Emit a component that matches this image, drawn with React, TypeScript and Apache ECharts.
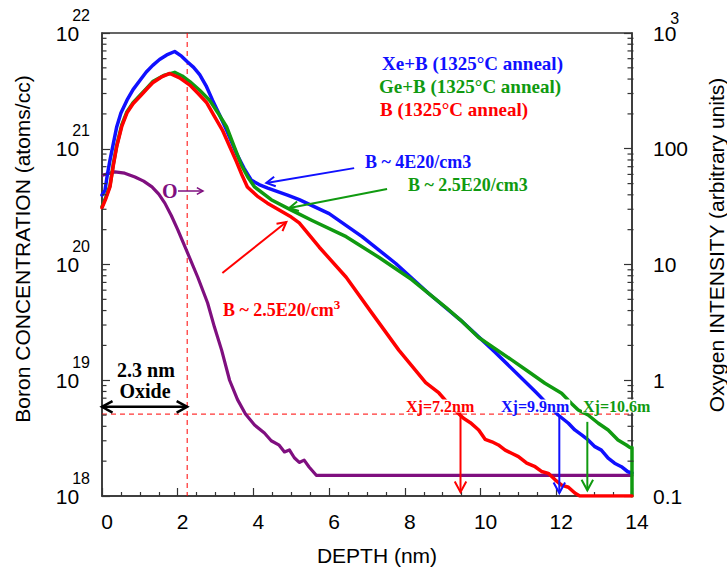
import React, { useEffect, useRef } from "react";
import * as echarts from "echarts";

const SANS = "'Liberation Sans', Arial, sans-serif";
const SERIF = "'Liberation Serif', 'Times New Roman', serif";

const BLUE = "#1010ff";
const GREEN = "#109a10";
const RED = "#ff0000";
const PURPLE = "#7f0f7f";
const AXIS = "#333333";

// ---- Data ----
const xeDepth = [0, 0.08, 0.14, 0.21, 0.29, 0.39, 0.5, 0.66, 0.82, 1.0, 1.17, 1.34, 1.52, 1.71, 1.92, 2.1, 2.26, 2.42, 2.58, 2.75, 2.92, 3.1, 3.29, 3.55, 3.75, 3.94, 4.15, 4.38, 4.9, 5.21, 6.0, 6.87, 7.76, 8.63, 9.47, 10.39, 11.45, 11.75, 12.05, 12.32, 12.49, 12.67, 12.84, 13.02, 13.19, 13.37, 13.54, 13.72, 13.89, 14];
const xeConc = [3.98e20, 4.37e20, 5.93e20, 7.94e20, 1.07e21, 1.55e21, 2.04e21, 2.63e21, 3.24e21, 3.89e21, 4.6e21, 5.25e21, 5.9e21, 6.46e21, 6.92e21, 6.31e21, 5.62e21, 5.05e21, 4.37e21, 3.5e21, 2.63e21, 1.98e21, 1.45e21, 9.12e20, 6.8e20, 5.37e20, 4.9e20, 4.57e20, 3.98e20, 3.63e20, 2.75e20, 1.74e20, 1.02e20, 5.62e19, 3.31e19, 1.74e19, 7.94e18, 6.31e18, 5.01e18, 4.25e18, 3.72e18, 3.37e18, 3.05e18, 2.67e18, 2.49e18, 2.12e18, 1.92e18, 1.79e18, 1.62e18, 1.58e18];

const geDepth = [0, 0.1, 0.21, 0.3, 0.39, 0.52, 0.66, 0.82, 1.0, 1.17, 1.34, 1.63, 1.92, 2.12, 2.32, 2.58, 2.84, 3.06, 3.29, 3.48, 3.68, 3.85, 4.03, 4.47, 5.0, 5.55, 6.45, 7.32, 8.18, 9.08, 9.47, 9.95, 10.82, 11.26, 11.7, 12.14, 12.4, 12.58, 12.84, 13.11, 13.37, 13.63, 13.85, 13.94, 14, 14];
const geConc = [3.16e20, 3.8e20, 4.79e20, 7.4e20, 1.07e21, 1.6e21, 2.09e21, 2.5e21, 2.88e21, 3.3e21, 3.8e21, 4.3e21, 4.57e21, 4.25e21, 3.8e21, 3.2e21, 2.63e21, 2.05e21, 1.55e21, 1.07e21, 7.24e20, 5.7e20, 4.68e20, 3.63e20, 2.95e20, 2.4e20, 1.74e20, 1.15e20, 7.41e19, 4.27e19, 3.31e19, 2.34e19, 1.5e19, 1.19e19, 9.42e18, 7.71e18, 6.31e18, 5.53e18, 5.01e18, 4.25e18, 3.72e18, 3.05e18, 2.76e18, 2.63e18, 2.63e18, 1.0e18];

const bDepth = [0, 0.1, 0.21, 0.3, 0.39, 0.52, 0.66, 0.82, 1.0, 1.17, 1.34, 1.56, 1.79, 2.05, 2.32, 2.54, 2.76, 2.97, 3.18, 3.37, 3.55, 3.7, 3.84, 4.1, 4.37, 4.68, 5.0, 5.21, 5.74, 6.45, 7.13, 7.84, 8.55, 8.9, 9.2, 9.55, 9.73, 9.95, 10.12, 10.3, 10.47, 10.65, 10.82, 11.0, 11.22, 11.44, 11.61, 11.79, 11.97, 12.14, 12.32, 12.49, 12.62, 14];
const bConc = [3.09e20, 3.7e20, 4.68e20, 7.2e20, 1.05e21, 1.55e21, 2.04e21, 2.45e21, 2.82e21, 3.25e21, 3.72e21, 4.15e21, 4.47e21, 4.1e21, 3.55e21, 3.0e21, 2.51e21, 1.9e21, 1.45e21, 1.05e21, 7.76e20, 5.9e20, 4.68e20, 3.9e20, 3.39e20, 2.95e20, 2.57e20, 2.29e20, 1.41e20, 7.76e19, 3.8e19, 1.82e19, 9.55e18, 7.76e18, 6.0e18, 4.69e18, 4.3e18, 3.72e18, 3.09e18, 2.94e18, 2.76e18, 2.49e18, 2.34e18, 2.19e18, 1.92e18, 1.79e18, 1.63e18, 1.57e18, 1.38e18, 1.24e18, 1.19e18, 1.06e18, 1.0e18, 1.0e18];

const oDepth = [0.03, 0.34, 0.6, 0.87, 1.1, 1.32, 1.5, 1.66, 1.83, 2.0, 2.26, 2.53, 2.79, 2.97, 3.16, 3.37, 3.58, 3.79, 4.03, 4.29, 4.47, 4.68, 4.82, 4.95, 5.08, 5.21, 5.34, 5.47, 5.66, 14];
const oIntensity = [59.3, 63.1, 61.5, 57.0, 52.5, 46.8, 40.5, 33.9, 26.5, 20.0, 12.6, 7.76, 4.65, 2.88, 1.82, 1.0, 0.68, 0.51, 0.41, 0.35, 0.3, 0.275, 0.24, 0.25, 0.214, 0.195, 0.204, 0.178, 0.151, 0.151];

const legendLabels = ["Xe+B (1325°C anneal)", "Ge+B (1325°C anneal)", "B (1325°C anneal)"];
const oxideDepth = 2.25;
const xjLevel = 5.1e18;
const xjLabels = ["Xj=7.2nm", "Xj=9.9nm", "Xj=10.6m"];
const xjArrowDepth = [9.47, 12.08, 12.82];
const xjArrowTop = [5.75e18, 5.0e18, 4.37e18];
const xjArrowBottom = [1.08e18, 1.06e18, 1.12e18];

const zip = (a: number[], b: number[]) => a.map((v, i) => [v, b[i]]);

function arrowEls(p1: number[], p2: number[], color: string, head = 10, width = 2, both = false) {
  const ang = Math.atan2(p2[1] - p1[1], p2[0] - p1[0]);
  const a = 0.5;
  const mk = (tip: number[], d: number) => ({
    type: "polyline",
    z: 100,
    shape: {
      points: [
        [tip[0] - head * Math.cos(d - a), tip[1] - head * Math.sin(d - a)],
        [tip[0], tip[1]],
        [tip[0] - head * Math.cos(d + a), tip[1] - head * Math.sin(d + a)],
      ],
    },
    style: { stroke: color, lineWidth: width, fill: null },
  });
  const els: any[] = [
    { type: "line", z: 100, shape: { x1: p1[0], y1: p1[1], x2: p2[0], y2: p2[1] }, style: { stroke: color, lineWidth: width } },
    mk(p2, ang),
  ];
  if (both) els.push(mk(p1, ang + Math.PI));
  return els;
}

function txt(x: number, y: number, text: string, color: string, size: number, extra: any = {}) {
  return {
    type: "text",
    z: 110,
    x,
    y,
    style: {
      text,
      fill: color,
      fontSize: size,
      fontFamily: SERIF,
      fontWeight: "bold",
      align: "left",
      verticalAlign: "middle",
      ...extra,
    },
  };
}

export default function App() {
  const ref = useRef<HTMLDivElement>(null);
  useEffect(() => {
    const chart = echarts.init(ref.current!, null, { renderer: "svg" });
    const lineSeries = (name: string, data: number[][], color: string, yAxisIndex = 0, width = 3.5) => ({
      name,
      type: "line",
      data,
      yAxisIndex,
      showSymbol: false,
      smooth: false,
      lineStyle: { color, width, join: "round", cap: "round" },
      itemStyle: { color },
      z: 3,
    });
    const option: any = {
      animation: false,
      backgroundColor: "#ffffff",
      grid: { left: 102, right: 95, top: 33, bottom: 77, show: true, borderColor: AXIS, borderWidth: 1.5, backgroundColor: "transparent" },
      xAxis: {
        type: "value",
        min: 0,
        max: 14,
        interval: 2,
        axisLine: { show: true, onZero: false, lineStyle: { color: AXIS, width: 1.5 } },
        axisTick: { show: true, inside: true, length: 8, lineStyle: { color: AXIS, width: 1.2 } },
        minorTick: { show: true, splitNumber: 4, length: 4, lineStyle: { color: AXIS, width: 1.2 } },
        splitLine: { show: false },
        axisLabel: { fontSize: 21, fontFamily: SANS, color: "#000", margin: 15, padding: [0, 0, 0, 10] },
      },
      yAxis: [
        {
          type: "log",
          logBase: 10,
          min: 1e18,
          max: 1e22,
          position: "left",
          axisLine: { show: true, lineStyle: { color: AXIS, width: 1.5 } },
          axisTick: { show: true, inside: true, length: 8, lineStyle: { color: AXIS, width: 1.2 } },
          splitLine: { show: false },
          axisLabel: {
            margin: 12,
            color: "#000",
            fontFamily: SANS,
            formatter: (v: number) => `{b|10}{s|${Math.round(Math.log10(v))}}`,
            rich: {
              b: { fontSize: 21, fontFamily: SANS, color: "#000" },
              s: { fontSize: 16, fontFamily: SANS, color: "#000", padding: [0, 0, 36, -7] },
            },
          },
        },
        {
          type: "log",
          logBase: 10,
          min: 0.1,
          max: 1000,
          position: "right",
          axisLine: { show: true, lineStyle: { color: AXIS, width: 1.5 } },
          axisTick: { show: true, inside: true, length: 8, lineStyle: { color: AXIS, width: 1.2 } },
          splitLine: { show: false },
          axisLabel: {
            margin: 21,
            color: "#000",
            fontFamily: SANS,
            formatter: (v: number) => (v >= 999 ? "{b|10}{s|3}" : `{b|${+v.toPrecision(3)}}`),
            rich: {
              b: { fontSize: 21, fontFamily: SANS, color: "#000" },
              s: { fontSize: 16, fontFamily: SANS, color: "#000", padding: [0, 0, 30, -6] },
            },
          },
        },
      ],
      series: [
        lineSeries("O", zip(oDepth, oIntensity), PURPLE, 1, 3.2),
        lineSeries("Xe+B", zip(xeDepth, xeConc), BLUE),
        lineSeries("Ge+B", zip(geDepth, geConc), GREEN),
        lineSeries("B", zip(bDepth, bConc), RED),
      ],
    };
    chart.setOption(option);

    const P = (x: number, y: number) => chart.convertToPixel({ xAxisIndex: 0, yAxisIndex: 0 }, [x, y]) as number[];
    const PR = (x: number, y: number) => chart.convertToPixel({ xAxisIndex: 0, yAxisIndex: 1 }, [x, y]) as number[];
    const g: any[] = [];

    // guide dashed lines (oxide edge and Xj level)
    const xl = P(0, 1e18)[0];
    const xr = P(14, 1e18)[0];
    const yb = P(0, 1e18)[1];
    const yt = P(0, 1e22)[1];
    const xo = P(oxideDepth, 1e18)[0];
    const yx = P(0, xjLevel)[1];
    g.push({ type: "line", z: 2, shape: { x1: xo, y1: yt, x2: xo, y2: yb }, style: { stroke: RED, lineWidth: 1, lineDash: [5, 4] } });
    g.push({ type: "line", z: 2, shape: { x1: xl, y1: yx, x2: xr, y2: yx }, style: { stroke: RED, lineWidth: 1, lineDash: [5, 4] } });

    // log minor ticks
    for (let d = 18; d < 22; d++) {
      for (let m = 2; m <= 9; m++) {
        const y = P(0, m * Math.pow(10, d))[1];
        g.push({ type: "line", z: 50, shape: { x1: xl, y1: y, x2: xl + 4.5, y2: y }, style: { stroke: AXIS, lineWidth: 1.2 } });
      }
    }
    for (let d = -1; d < 3; d++) {
      for (let m = 2; m <= 9; m++) {
        const y = PR(14, m * Math.pow(10, d))[1];
        g.push({ type: "line", z: 50, shape: { x1: xr - 4.5, y1: y, x2: xr + 1.5, y2: y }, style: { stroke: AXIS, lineWidth: 1.2 } });
      }
    }

    // axis titles
    g.push({ type: "text", z: 110, x: 22, y: 249, rotation: Math.PI / 2, style: { text: "Boron CONCENTRATION (atoms/cc)", fontSize: 21, fontFamily: SANS, fill: "#000", align: "center", verticalAlign: "middle" } });
    g.push({ type: "text", z: 110, x: 716, y: 245, rotation: Math.PI / 2, style: { text: "Oxygen INTENSITY (arbitrary units)", fontSize: 21, fontFamily: SANS, fill: "#000", align: "center", verticalAlign: "middle" } });
    g.push({ type: "text", z: 110, x: 377, y: 555, style: { text: "DEPTH (nm)", fontSize: 21, fontFamily: SANS, fill: "#000", align: "center", verticalAlign: "middle" } });

    // legend
    g.push(txt(382, 63, legendLabels[0], BLUE, 19));
    g.push(txt(379, 86, legendLabels[1], GREEN, 19));
    g.push(txt(380, 109, legendLabels[2], RED, 19));

    // annotations
    g.push(txt(365, 162, "B ~ 4E20/cm3", BLUE, 18));
    g.push(txt(408, 185, "B ~ 2.5E20/cm3", GREEN, 18));
    g.push({
      type: "text",
      z: 110,
      x: 223,
      y: 310,
      style: {
        text: "{a|B ~ 2.5E20/cm}{s|3}",
        align: "left",
        verticalAlign: "middle",
        rich: {
          a: { fill: RED, fontSize: 18, fontFamily: SERIF, fontWeight: "bold" },
          s: { fill: RED, fontSize: 13, fontFamily: SERIF, fontWeight: "bold", padding: [0, 0, 12, 0] },
        },
      },
    });
    g.push(txt(162, 191, "O", PURPLE, 20));
    g.push(...arrowEls([178, 191], [203, 191], PURPLE, 7, 1.5));
    g.push(txt(146, 370, "2.3 nm", "#000", 20, { align: "center", lineHeight: 17 }));
    g.push(txt(145, 391, "Oxide", "#000", 20, { align: "center", lineHeight: 17 }));

    const xjColors = [RED, BLUE, GREEN];
    const xjLeft = [405, 500, 582];
    xjLabels.forEach((t, i) => {
      g.push(txt(xjLeft[i], 406, t, xjColors[i], 16, { backgroundColor: "#fff", lineHeight: 13, padding: [0, 1, 0, 1] }));
      g.push(...arrowEls(P(xjArrowDepth[i], xjArrowTop[i]), P(xjArrowDepth[i], xjArrowBottom[i]), xjColors[i], 12, 2));
    });

    g.push(...arrowEls(P(6.66, 6.8e20), P(4.34, 5.06e20), BLUE, 10, 2));
    g.push(...arrowEls(P(7.53, 4.49e20), P(4.95, 3.08e20), GREEN, 10, 2));
    g.push(...arrowEls(P(3.18, 8.45e19), P(4.87, 2.33e20), RED, 10, 2));
    g.push(...arrowEls(P(0, 5.89e18), P(oxideDepth, 5.89e18), "#000", 12, 2.5, true));

    chart.setOption({ graphic: { elements: g } });
    return () => chart.dispose();
  }, []);
  return <div ref={ref} style={{ position: "absolute", left: 0, top: 0, width: 727, height: 573 }} />;
}
